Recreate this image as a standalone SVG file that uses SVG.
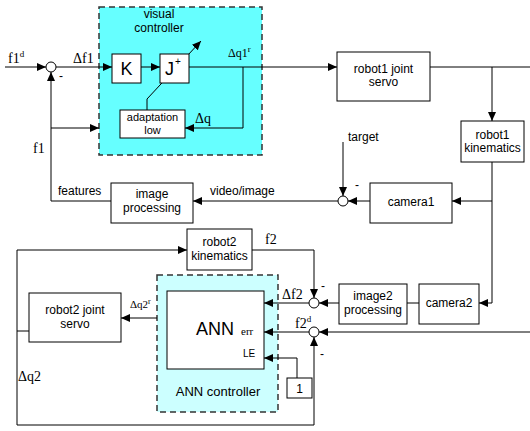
<svg xmlns="http://www.w3.org/2000/svg" width="530" height="431" viewBox="0 0 530 431">
<defs>
<marker id="ah" markerWidth="10" markerHeight="8" refX="9" refY="4" orient="auto" markerUnits="userSpaceOnUse">
<path d="M0,0 L9,4 L0,8 Z" fill="#000"/>
</marker>
<style>
.box{fill:#fff;stroke:#000;stroke-width:1}
.ln{fill:none;stroke:#000;stroke-width:1}
.ar{fill:none;stroke:#000;stroke-width:1;marker-end:url(#ah)}
.dash{stroke:#333;stroke-width:1.5;stroke-dasharray:6,4}
.s{font-family:"Liberation Sans",Arial,sans-serif;font-size:12px;fill:#000}
.m{text-anchor:middle}
.t{font-family:"Liberation Serif","Times New Roman",serif;font-size:14px;fill:#000}
.sup{font-size:9px}
.sum{fill:#fff;stroke:#000;stroke-width:1}
</style>
</defs>
<rect width="530" height="431" fill="#fff"/>

<g id="visual-controller">
<rect x="99" y="7" width="163" height="148" fill="#66FFFF" class="dash"/>
<text class="s m" x="159" y="18">visual</text>
<text class="s m" x="159" y="32">controller</text>
</g>
<g id="ann-controller">
<rect x="157" y="275" width="121" height="137" fill="#CCFFFF" class="dash"/>
<text class="s m" x="218" y="396" style="font-size:13px">ANN controller</text>
</g>

<g id="connectors">
<path class="ar" d="M5,67 H46"/>
<path class="ar" d="M56,67 H112"/>
<path class="ar" d="M141,67 H160"/>
<path class="ar" d="M189,67 H337"/>
<path class="ar" d="M243,67 V128 H185"/>
<path class="ar" d="M147,110 V99 L201,41"/>
<path class="ln" d="M430,67 H530"/>
<path class="ar" d="M492,67 V121"/>
<path class="ar" d="M492,162 V303 H479"/>
<path class="ar" d="M492,201 H452"/>
<path class="ar" d="M370,201 H348"/>
<path class="ar" d="M343,142 V196"/>
<path class="ar" d="M338,201 H193"/>
<path class="ar" d="M111,201 H51 V72"/>
<path class="ar" d="M51,128 H99"/>
<path class="ln" d="M419,303 H407"/>
<path class="ar" d="M339,303 H319"/>
<path class="ar" d="M252,250 H314 V298"/>
<path class="ar" d="M309,303 H264"/>
<path class="ar" d="M530,332 H319"/>
<path class="ar" d="M309,332 H264"/>
<path class="ar" d="M17,250 V425 H314 V337"/>
<path class="ar" d="M17,250 H187"/>
<path class="ln" d="M17,331 H29"/>
<path class="ar" d="M297,378 V358 H264"/>
<path class="ar" d="M157,318 H121"/>
</g>

<g id="sum1"><circle class="sum" cx="51" cy="67" r="5"/><text class="s" x="59" y="80">-</text></g>
<g id="sum2"><circle class="sum" cx="343" cy="201" r="5"/><text class="s" x="355" y="189">-</text></g>
<g id="sum3"><circle class="sum" cx="314" cy="303" r="5"/><text class="s" x="321" y="290">-</text></g>
<g id="sum4"><circle class="sum" cx="314" cy="332" r="5"/><text class="s" x="320" y="358">-</text></g>

<g id="K"><rect class="box" x="112" y="54" width="29" height="29"/><text class="s m" x="126.5" y="75" style="font-size:18px">K</text></g>
<g id="J"><rect class="box" x="160" y="54" width="29" height="29"/><text class="s" x="165" y="75" style="font-size:18px">J</text><text class="s" x="175" y="65" style="font-size:10px">+</text></g>
<g id="adaptation"><rect class="box" x="120" y="110" width="65" height="28"/><text class="s m" x="152.5" y="121" style="font-size:11px">adaptation</text><text class="s m" x="152.5" y="134" style="font-size:11px">low</text></g>
<g id="robot1-servo"><rect class="box" x="337" y="52" width="93" height="49"/><text class="s m" x="383.5" y="73">robot1 joint</text><text class="s m" x="383.5" y="86">servo</text></g>
<g id="robot1-kin"><rect class="box" x="461" y="121" width="63" height="41"/><text class="s m" x="492.5" y="139">robot1</text><text class="s m" x="492.5" y="152">kinematics</text></g>
<g id="image-processing"><rect class="box" x="111" y="183" width="82" height="40"/><text class="s m" x="152" y="198">image</text><text class="s m" x="152" y="212">processing</text></g>
<g id="camera1"><rect class="box" x="370" y="183" width="82" height="40"/><text class="s m" x="411" y="206">camera1</text></g>
<g id="robot2-kin"><rect class="box" x="187" y="229" width="65" height="41"/><text class="s m" x="219.5" y="246">robot2</text><text class="s m" x="219.5" y="260">kinematics</text></g>
<g id="robot2-servo"><rect class="box" x="29" y="293" width="92" height="49"/><text class="s m" x="75" y="314">robot2 joint</text><text class="s m" x="75" y="328">servo</text></g>
<g id="image2-processing"><rect class="box" x="339" y="284" width="68" height="40"/><text class="s m" x="373" y="300">image2</text><text class="s m" x="373" y="314">processing</text></g>
<g id="camera2"><rect class="box" x="419" y="284" width="60" height="40"/><text class="s m" x="449" y="307">camera2</text></g>
<g id="ANN"><rect class="box" x="167" y="291" width="97" height="78"/><text class="s" x="196" y="335" style="font-size:18px">ANN</text><text class="t" x="241" y="335" style="font-size:11px">err</text><text class="s" x="243" y="357" style="font-size:10px">LE</text></g>
<g id="one"><rect class="box" x="287" y="378" width="25" height="20"/><text class="s m" x="299.5" y="393">1</text></g>

<g id="labels">
<text class="t" x="8" y="63">f1<tspan class="sup" dy="-6">d</tspan></text>
<text class="t" x="73" y="63">Δf1</text>
<text class="t" x="228" y="57" style="font-size:12px">Δq1<tspan class="sup" dy="-5">r</tspan></text>
<text class="t" x="195" y="123">Δq</text>
<text class="t" x="33" y="153">f1</text>
<text class="s" x="58" y="195">features</text>
<text class="s" x="210" y="195">video/image</text>
<text class="s" x="348" y="141">target</text>
<text class="t" x="265" y="244">f2</text>
<text class="t" x="282" y="299">Δf2</text>
<text class="t" x="295" y="328">f2<tspan class="sup" dy="-6">d</tspan></text>
<text class="t" x="130" y="308" style="font-size:11px">Δq2<tspan style="font-size:8px" dy="-4">r</tspan></text>
<text class="t" x="18" y="381">Δq2</text>
</g>
</svg>
